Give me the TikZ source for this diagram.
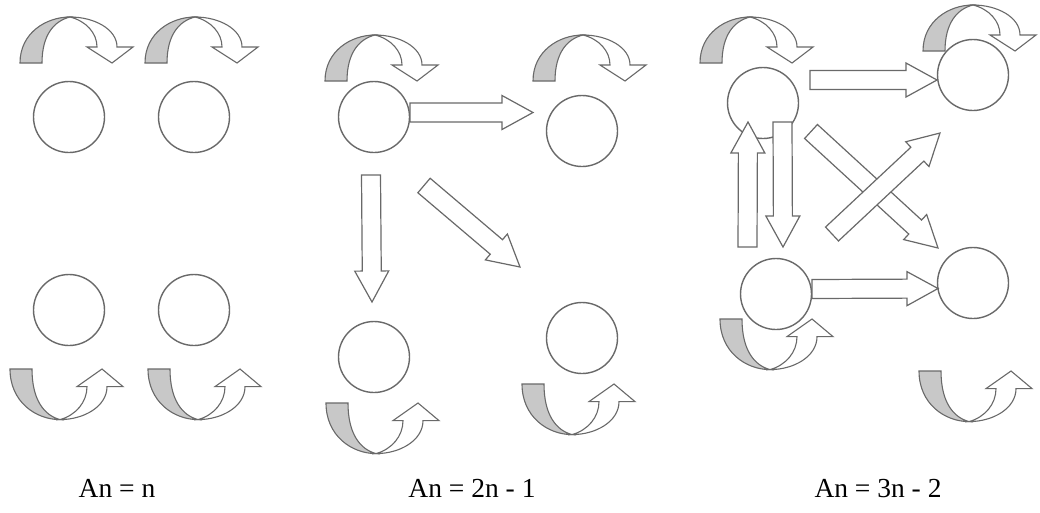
\documentclass[tikz,border=0pt]{standalone}
\usepackage{fontspec}
\setmainfont{Liberation Serif}
\usetikzlibrary{calc}

\definecolor{linegrey}{RGB}{105,105,105}
\definecolor{bandgrey}{RGB}{200,200,200}

\tikzset{
  state/.style={circle, draw=linegrey, line width=1.4pt, fill=white,
    minimum size=71pt, inner sep=0pt},
  blockarrow/.style={draw=linegrey, line width=1.2pt, fill=white, line join=miter},
  formula/.style={anchor=base, font=\fontsize{27.5}{33}\selectfont},
  % curved self arrow, origin below its apex
  selfloop/.pic={
    \filldraw[draw=linegrey, line width=1.1pt, fill=bandgrey]
      (-50,0) .. controls (-50,-30) and (-24,-46) .. (0,-46)
      .. controls (-16,-42) and (-28,-28) .. (-28,0) -- cycle;
    \filldraw[draw=linegrey, line width=1.1pt, fill=white]
      (0,-46) .. controls (24,-46) and (47,-34) .. (47,-16)
      -- (63,-16) -- (42,0) -- (17,-16) -- (27,-16)
      .. controls (27,-30) and (16,-42) .. (0,-46) -- cycle;
  }
}

% straight block arrow from #1 to #2
\newcommand\blockarr[2]{%
  \draw[blockarrow] let \p1=($(#2)!31pt!(#1)$) in
    ($(#1)!9.5pt!90:(#2)$) -- ($(\p1)!9.5pt!90:(#2)$) -- ($(\p1)!17pt!90:(#2)$)
    -- (#2) -- ($(\p1)!17pt!-90:(#2)$) -- ($(\p1)!9.5pt!-90:(#2)$)
    -- ($(#1)!9.5pt!-90:(#2)$) -- cycle;}

\begin{document}
\begin{tikzpicture}[x=1pt, y=-1pt]
\useasboundingbox (0,0) rectangle (1040,512);
\clip (0,0) rectangle (1040,512);

% An = n
\node[state] (n1a) at (69,117) {};
\node[state] (n1b) at (194,117) {};
\node[state] (n1c) at (69,310) {};
\node[state] (n1d) at (194,310) {};
\pic (l1a) at (70,63) {selfloop};
\pic (l1b) at (195,63) {selfloop};
\pic[shift={(60,369)}, yscale=-1.1] (l1c) {selfloop};
\pic[shift={(198,369)}, yscale=-1.1] (l1d) {selfloop};

% An = 2n - 1
\node[state] (n2a) at (374,117) {};
\node[state] (n2b) at (582,131) {};
\node[state] (n2c) at (374,357) {};
\node[state] (n2d) at (582,338) {};
\pic (l2a) at (375,81) {selfloop};
\pic (l2b) at (583,81) {selfloop};
\pic[shift={(376,403)}, yscale=-1.1] (l2c) {selfloop};
\pic[shift={(572,384)}, yscale=-1.1] (l2d) {selfloop};

\coordinate (ab1) at (410,112.5);
\coordinate (ab2) at (533,112.5);
\coordinate (ac1) at (371,175);
\coordinate (ac2) at (372,302);
\coordinate (ad1) at (424,185.5);
\coordinate (ad2) at (520,267);
\blockarr{ab1}{ab2}
\blockarr{ac1}{ac2}
\blockarr{ad1}{ad2}

% An = 3n - 2
\node[state] (n3a) at (763,103) {};
\node[state] (n3b) at (973,75) {};
\node[state] (n3c) at (776,294) {};
\node[state] (n3d) at (973,283) {};
\pic (l3a) at (750,63) {selfloop};
\pic (l3b) at (973,51) {selfloop};
\pic[shift={(770,319)}, yscale=-1.1] (l3c) {selfloop};
\pic[shift={(969,371)}, yscale=-1.1] (l3d) {selfloop};

\coordinate (bb1) at (810,80);
\coordinate (bb2) at (937,80);
\coordinate (bc1) at (747.5,247);
\coordinate (bc2) at (748,122);
\coordinate (bd1) at (782.5,122);
\coordinate (bd2) at (783,247);
\coordinate (be1) at (811,131.5);
\coordinate (be2) at (938,248);
\coordinate (bf1) at (832,234);
\coordinate (bf2) at (940,133);
\coordinate (bg1) at (812,289);
\coordinate (bg2) at (938,288.5);
\blockarr{bb1}{bb2}
\blockarr{bc1}{bc2}
\blockarr{bd1}{bd2}
\blockarr{be1}{be2}
\blockarr{bf1}{bf2}
\blockarr{bg1}{bg2}

% formulas
\node[formula] (f1) at (117,497) {An = n};
\node[formula] (f2) at (472,497) {An = 2n - 1};
\node[formula] (f3) at (878,497) {An = 3n - 2};

\end{tikzpicture}
\end{document}
